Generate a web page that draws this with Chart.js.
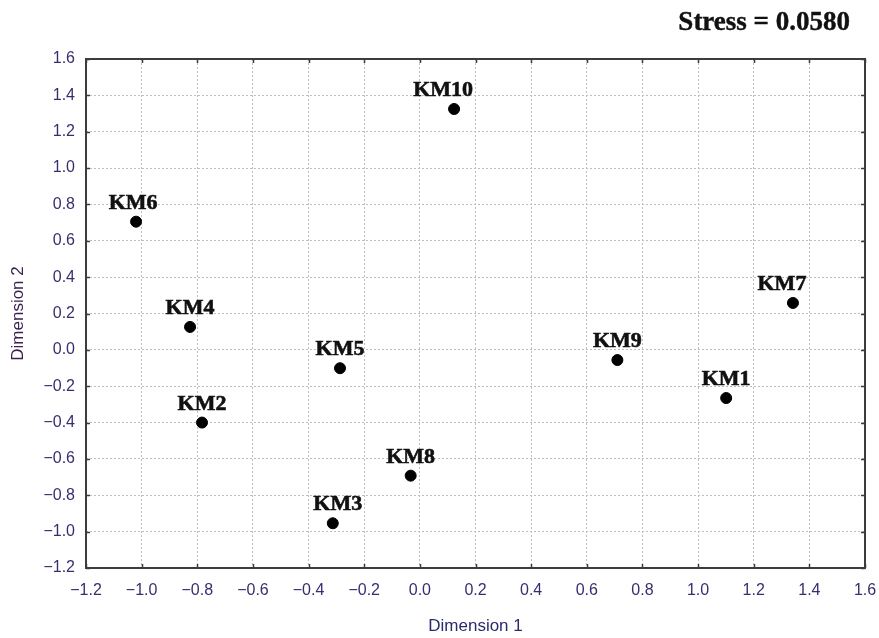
<!DOCTYPE html>
<html>
<head>
<meta charset="utf-8">
<script src="https://cdn.jsdelivr.net/npm/chart.js@4/dist/chart.umd.min.js"></script>
<style>
  html, body { margin: 0; padding: 0; background: #fff; }
  #wrap { position: relative; width: 879px; height: 638px; }
  #stress {
    position: absolute; right: 29px; top: 8px;
    font: bold 27px/27px "Liberation Serif", "Times New Roman", serif;
    color: #111; -webkit-text-stroke: 0.4px #111;
  }
</style>
</head>
<body>
<div id="wrap">
  <canvas id="mdsChart" width="879" height="638"></canvas>
  <div id="stress">Stress = 0.0580</div>
</div>
<script>
// point names and coordinates
const names = ['KM1', 'KM2', 'KM3', 'KM4', 'KM5', 'KM6', 'KM7', 'KM8', 'KM9', 'KM10'];
const dim1  = [1.101, -0.783, -0.313, -0.826, -0.287, -1.020, 1.341, -0.033, 0.710, 0.123];
const dim2  = [-0.265, -0.40, -0.954, 0.126, -0.101, 0.705, 0.258, -0.692, -0.056, 1.325];

const tickColor = '#3b2c70';
// a few labels sit a bit off-centre in the original
const labelShift = { KM3: 5, KM6: -3, KM7: -11, KM10: -11 };

const fmt = v => {
  const s = Math.abs(v).toFixed(1);
  return v < -1e-9 ? '\u2212' + s : s;
};

// border around the plot + small ticks pointing inward + point labels
const framePlugin = {
  id: 'frame',
  afterDatasetsDraw(chart) {
    const { ctx, chartArea: a, scales } = chart;
    ctx.save();
    ctx.strokeStyle = '#3c3c3c';
    ctx.lineWidth = 2;
    ctx.strokeRect(a.left, a.top, a.right - a.left, a.bottom - a.top);
    ctx.lineWidth = 1.5;
    ctx.beginPath();
    scales.x.ticks.forEach(t => {
      const px = Math.round(scales.x.getPixelForValue(t.value)) + 0.5;
      ctx.moveTo(px, a.bottom); ctx.lineTo(px, a.bottom - 4);
      ctx.moveTo(px, a.top); ctx.lineTo(px, a.top + 4);
    });
    scales.y.ticks.forEach(t => {
      const py = Math.round(scales.y.getPixelForValue(t.value)) + 0.5;
      ctx.moveTo(a.left, py); ctx.lineTo(a.left + 4, py);
      ctx.moveTo(a.right, py); ctx.lineTo(a.right - 4, py);
    });
    ctx.stroke();

    const meta = chart.getDatasetMeta(0);
    ctx.fillStyle = '#111';
    ctx.strokeStyle = '#111';
    ctx.lineWidth = 0.6;
    ctx.font = 'bold 22px "Liberation Serif", "Times New Roman", serif';
    ctx.textAlign = 'center';
    ctx.textBaseline = 'alphabetic';
    meta.data.forEach((pt, i) => {
      const x = pt.x + (labelShift[names[i]] || 0);
      ctx.fillText(names[i], x, pt.y - 13);
      ctx.strokeText(names[i], x, pt.y - 13);
    });
    ctx.restore();
  }
};

const axisFont = { family: 'Liberation Sans, Arial, sans-serif', size: 16 };
const titleFont = { family: 'Liberation Sans, Arial, sans-serif', size: 17 };

const chart = new Chart(document.getElementById('mdsChart'), {
  type: 'scatter',
  data: {
    datasets: [{
      data: dim1.map((x, i) => ({ x: x, y: dim2[i] })),
      backgroundColor: '#000',
      borderColor: '#000',
      pointRadius: 5.5,
      pointHoverRadius: 5.5
    }]
  },
  plugins: [framePlugin],
  options: {
    responsive: false,
    animation: false,
    events: [],
    layout: { padding: { left: 0, top: 59, right: 0, bottom: 0 } },
    plugins: { legend: { display: false }, tooltip: { enabled: false } },
    scales: {
      x: {
        min: -1.2, max: 1.6,
        afterFit: s => { s.height = 70; s.paddingRight = 14; },
        ticks: {
          stepSize: 0.2,
          padding: 13,
          color: tickColor,
          font: axisFont,
          callback: fmt
        },
        grid: { color: '#bdbdbd', lineWidth: 1, drawTicks: false },
        border: { display: false, dash: [2, 2] },
        title: {
          display: true,
          text: 'Dimension 1',
          color: '#2b2b6a',
          font: titleFont,
          padding: { top: 0, bottom: 1 }
        }
      },
      y: {
        min: -1.2, max: 1.6,
        afterFit: s => { s.width = 86; },
        ticks: {
          stepSize: 0.2,
          padding: 11,
          color: tickColor,
          font: axisFont,
          callback: fmt
        },
        grid: { color: '#bdbdbd', lineWidth: 1, drawTicks: false },
        border: { display: false, dash: [2, 2] },
        title: {
          display: true,
          text: 'Dimension 2',
          color: '#3b2050',
          font: titleFont,
          padding: { top: 8, bottom: 0 }
        }
      }
    }
  }
});
</script>
</body>
</html>
